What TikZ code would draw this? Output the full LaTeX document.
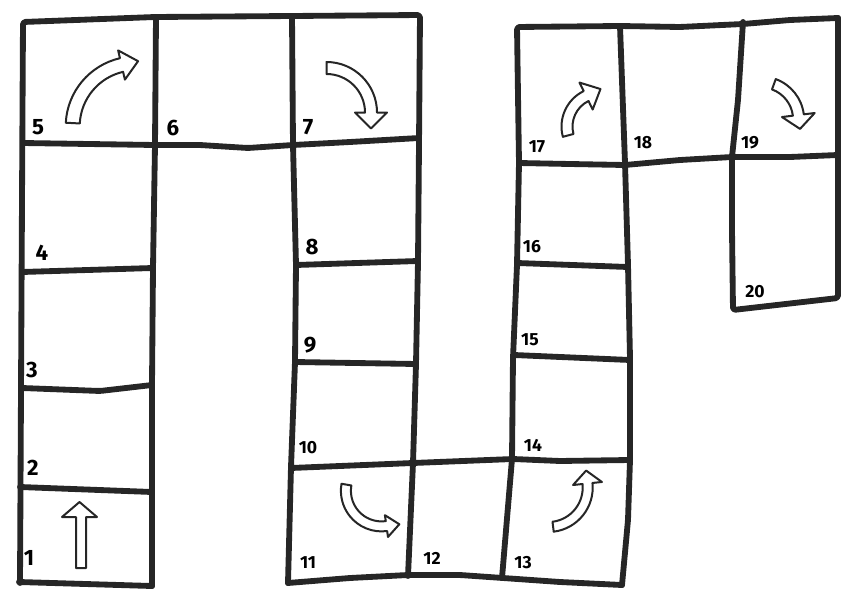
\documentclass[tikz,border=0pt]{standalone}
\usepackage{fontspec}
\setsansfont{Fira Sans}
\usetikzlibrary{calc}

% hollow curved arrow: centre x, centre y, radius, start, end, half width, head half width, head length
\newcommand{\bendarrow}[8]{%
    \pgfmathsetmacro\arrRin{#3-#6}%
    \pgfmathsetmacro\arrRout{#3+#6}%
    \pgfmathsetmacro\arrHin{#3-#7}%
    \pgfmathsetmacro\arrHout{#3+#7}%
    \pgfmathsetmacro\arrDir{ifthenelse(#5>#4,#5+90,#5-90)}%
    \coordinate (ac) at (#1,#2);
    \filldraw[hollow] ($(ac)+(#4:\arrRin)$) arc[start angle=#4, end angle=#5, radius=\arrRin]
        -- ($(ac)+(#5:\arrHin)$) -- ($(ac)+(#5:#3)+(\arrDir:#8)$) -- ($(ac)+(#5:\arrHout)$)
        -- ($(ac)+(#5:\arrRout)$) arc[start angle=#5, end angle=#4, radius=\arrRout] -- cycle;
}

\begin{document}
\begin{tikzpicture}[x=0.3mm,y=-0.3mm,
    wall/.style={line width=1.75mm,black!85,line cap=round,line join=round,rounded corners=0.8mm},
    hollow/.style={line width=0.6mm,draw=black!85,fill=white,line join=round},
    lab/.style={font=\sffamily\bfseries\fontsize{19}{19}\selectfont,inner sep=0pt},
    labs/.style={font=\sffamily\bfseries\fontsize{15}{15}\selectfont,inner sep=0pt}]
    \useasboundingbox (0,0) rectangle (843,592);
    % left block, squares 1 to 11
    \draw[wall] (20,583) -- (22,200) -- (23,22) -- (155,17) -- (292,16) -- (420,15)
        -- (419,145) -- (418,262) -- (416,364) -- (413,463) -- (408,576);
    \draw[wall] (156,17) -- (155,145) -- (153,268) -- (152,385) -- (152,492) -- (152,586);
    \draw[wall] (19,582) -- (152,586);
    \draw[wall] (23,143) -- (155,145) -- (200,145) -- (248,148) -- (293,145) -- (350,142) -- (419,138);
    \draw[wall] (22,272) -- (153,268);
    \draw[wall] (22,388) -- (100,391) -- (152,385);
    \draw[wall] (20,487) -- (152,492);
    \draw[wall] (292,16) -- (293,145) -- (296,265) -- (295,362) -- (291,467) -- (288,583);
    \draw[wall] (296,265) -- (418,261);
    \draw[wall] (295,362) -- (416,364);
    \draw[wall] (291,468) -- (413,463) -- (513,459) -- (560,461) -- (630,460);
    \draw[wall] (288,583) -- (350,578) -- (408,575) -- (460,575) -- (503,578) -- (560,582) -- (622,585);
    % right block, squares 12 to 20
    \draw[wall] (502,578) -- (512,459) -- (513,358) -- (517,265) -- (519,163) -- (517,27)
        -- (620,26) -- (680,27) -- (743,24) -- (790,20) -- (838,18);
    \draw[wall] (620,26) -- (625,163) -- (628,265) -- (630,358) -- (630,460) -- (628,520) -- (622,585);
    \draw[wall] (519,163) -- (570,164) -- (625,165) -- (680,160) -- (732,157) -- (790,157) -- (838,155);
    \draw[wall] (517,263) -- (628,267);
    \draw[wall] (514,355) -- (630,360);
    \draw[wall] (743,22) -- (738,100) -- (732,157) -- (732,230) -- (733,310) -- (838,298) -- (838,155) -- (838,18);
    % square numbers
    \foreach \n/\x/\y in {1/29/558,2/33/468,3/32/370,4/42/253,5/38/127,6/173/128,7/308/127,8/312/247,9/310/345}{
        \node[lab] (n\n) at (\x,\y) {\n};
    }
    \foreach \n/\x/\y in {10/308/448,11/308/563,12/432/558,13/523/563,14/533/445,15/530/340,
        16/532/247,17/537/147,18/643/143,19/750/143,20/755/292}{
        \node[labs] (n\n) at (\x,\y) {\n};
    }
    % arrows
    \filldraw[hollow] (76,568) -- (76,517) -- (62,517) -- (79.5,502) -- (97,517) -- (86,517) -- (86,568) -- cycle;
    \bendarrow{135.7}{126.4}{63}{183}{257}{7}{15}{17}
    \bendarrow{326.5}{112.5}{44.5}{270}{360}{6}{16}{16}
    \bendarrow{381.5}{490.8}{35.6}{190}{82}{5}{11}{13}
    \bendarrow{548.3}{487.6}{39.4}{83}{-6}{5}{14.5}{13}
    \bendarrow{601}{126.6}{34}{165}{244}{5.5}{15}{16}
    \bendarrow{761}{119.6}{37.6}{290}{353}{5.5}{16.5}{14}
\end{tikzpicture}
\end{document}
